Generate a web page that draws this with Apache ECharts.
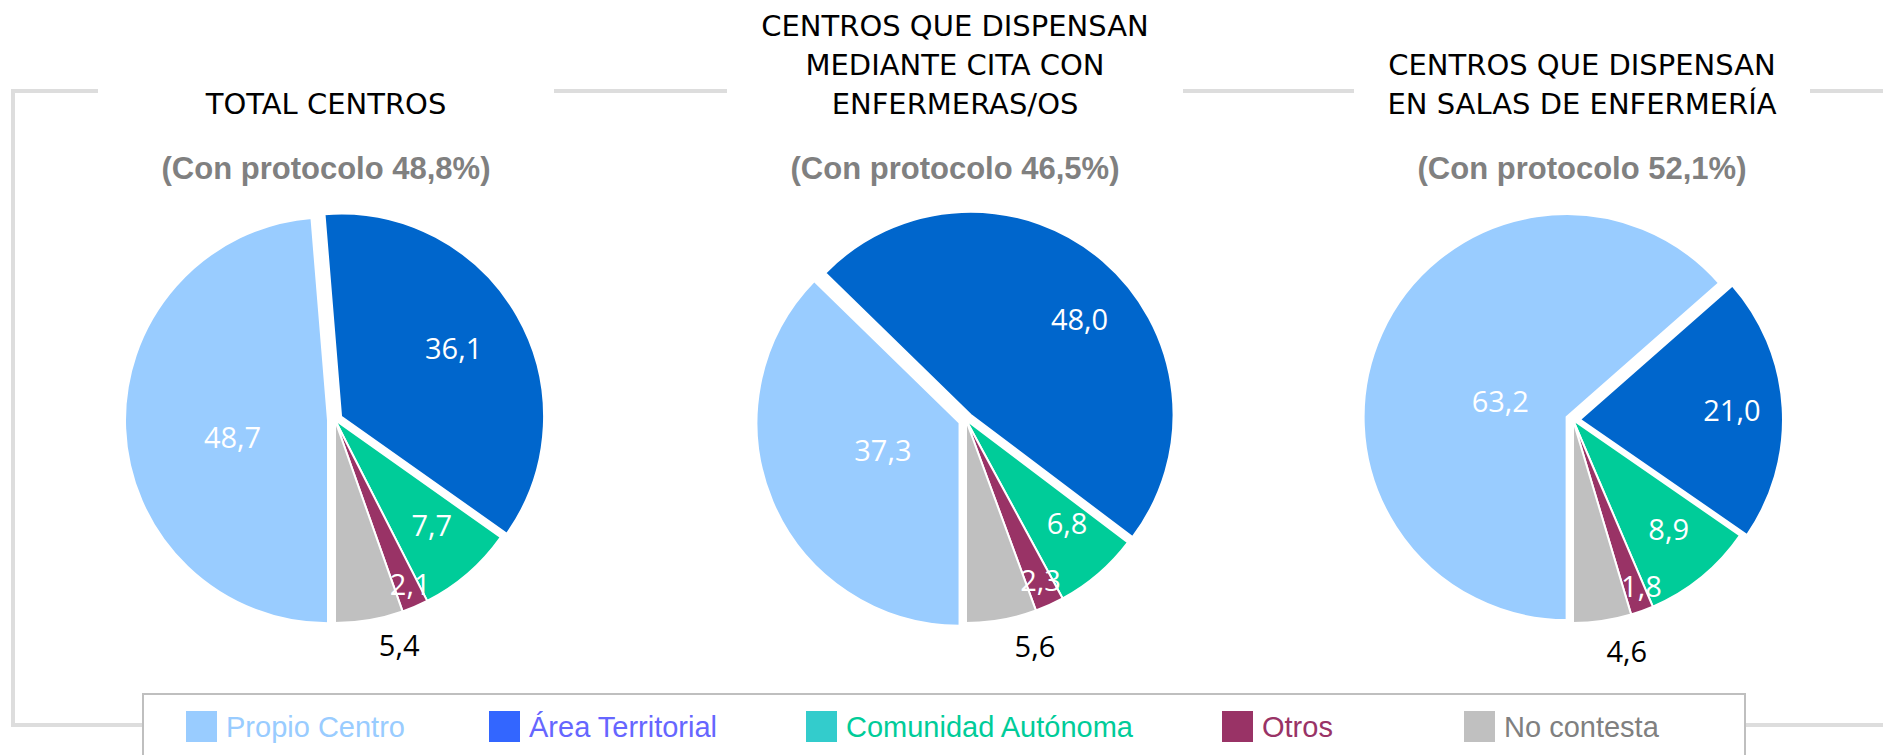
<!DOCTYPE html>
<html>
<head>
<meta charset="utf-8">
<title>Centros con protocolo</title>
<script src="https://cdn.jsdelivr.net/npm/echarts@6/dist/echarts.min.js"></script>
<style>
  html, body { margin: 0; padding: 0; background: #fff; }
  #chart { width: 1883px; height: 755px; }
</style>
</head>
<body>
<div id="chart"></div>
<script>
// datos (porcentajes)
const categories = ['Propio Centro', 'Área Territorial', 'Comunidad Autónoma', 'Otros', 'No contesta'];
const totalCentros = [48.7, 36.1, 7.7, 2.1, 5.4];
const citaEnfermeras = [37.3, 48.0, 6.8, 2.3, 5.6];
const salasEnfermeria = [63.2, 21.0, 8.9, 1.8, 4.6];
const pieTitles = [
  'TOTAL CENTROS',
  'CENTROS QUE DISPENSAN\nMEDIANTE CITA CON\nENFERMERAS/OS',
  'CENTROS QUE DISPENSAN\nEN SALAS DE ENFERMERÍA',
];
const conProtocolo = ['48,8', '46,5', '52,1'];

// estilo y maquetación
const sliceColors = ['#99CCFF', '#0066CC', '#00CC99', '#993366', '#C0C0C0'];
const legendIconColors = ['#99CCFF', '#3366FF', '#33CCCC', '#993366', '#C0C0C0'];
const legendTextColors = ['#99CCFF', '#6666FF', '#00CC99', '#993366', '#808080'];
const legendLeft = [186, 489, 806, 1222, 1464];
const pieCenters = [[335, 420], [966, 420], [1573, 420]];
const pieRadius = 203;
const titleX = [326, 955, 1582];
// colocación de etiquetas ("mejor ajuste" del original):
// [fracción del radio, desvío en grados respecto al ángulo medio del sector]
const labelPlacement = [
  [[0.477, -7.4], [0.651, -1.9], [0.703, -1.8], [0.885, -1.5], [1.152, -6.2]],
  [[0.40, 3.7], [0.715, 8.0], [0.709, -3.9], [0.866, -0.8], [1.163, -6.9]],
  [[0.337, -10.2], [0.75, -0.45], [0.712, -2.2], [0.884, -2.5], [1.167, -4.8]],
];

const seriesValues = [totalCentros, citaEnfermeras, salasEnfermeria];

// ángulo medio de cada sector, en grados desde las 12 en sentido horario
// (el primer sector empieza a las 6 en punto)
function midAngles(vals) {
  const sum = vals.reduce((a, b) => a + b, 0);
  let acc = 180;
  return vals.map((v) => {
    const a = (v / sum) * 360;
    const m = acc + a / 2;
    acc += a;
    return m;
  });
}

function placeLabel(si) {
  const mids = midAngles(seriesValues[si]);
  return function (p) {
    const pl = labelPlacement[si][p.dataIndex];
    const th = ((mids[p.dataIndex] + pl[1]) * Math.PI) / 180;
    const c = pieCenters[si];
    const tx = c[0] + pl[0] * pieRadius * Math.sin(th);
    const ty = c[1] - pl[0] * pieRadius * Math.cos(th);
    const r = p.labelRect;
    return { dx: tx - (r.x + r.width / 2), dy: ty - (r.y + r.height / 2) };
  };
}

const series = seriesValues.map((vals, si) => ({
  type: 'pie',
  center: pieCenters[si],
  radius: pieRadius,
  startAngle: 270,
  clockwise: true,
  selectedMode: 'multiple',
  selectedOffset: 7,
  animation: false,
  emphasis: { disabled: true },
  itemStyle: { borderColor: '#fff', borderWidth: 2 },
  label: {
    show: true,
    position: 'inside',
    fontFamily: 'Open Sans',
    fontSize: 29,
    formatter: (p) => p.value.toFixed(1).replace('.', ','),
  },
  labelLine: { show: false },
  labelLayout: placeLabel(si),
  data: categories.map((name, j) => ({
    name: name,
    value: vals[j],
    selected: j < 2,
    itemStyle: { color: sliceColors[j] },
    label: { color: j === 4 ? '#000' : '#fff' },
  })),
}));

const legends = categories.map((name, j) => ({
  left: legendLeft[j],
  top: 711,
  padding: 0,
  itemWidth: 31,
  itemHeight: 31,
  selectedMode: false,
  textStyle: { fontFamily: 'Liberation Sans', fontSize: 29, padding: [0, 0, 0, 4] },
  data: [{
    name: name,
    icon: 'rect',
    itemStyle: { color: legendIconColors[j], borderWidth: 0 },
    textStyle: { color: legendTextColors[j] },
  }],
}));

const graphics = [
  // marco gris
  {
    type: 'rect', z: 0, silent: true,
    shape: { x: 13, y: 91, width: 1900, height: 634 },
    style: { fill: null, stroke: '#DDDDDD', lineWidth: 4 },
  },
  // caja de la leyenda
  {
    type: 'rect', z: 1, silent: true,
    shape: { x: 143, y: 694, width: 1602, height: 80 },
    style: { fill: '#fff', stroke: '#BFBFBF', lineWidth: 2 },
  },
];
pieTitles.forEach((t, i) => {
  const lines = t.split('\n').length;
  graphics.push({
    type: 'rect', z: 1, silent: true,
    shape: { x: titleX[i] - 228, y: 84, width: 456, height: 14 },
    style: { fill: '#fff' },
  });
  graphics.push({
    type: 'text', z: 5, silent: true,
    x: titleX[i], y: 104 + 19.5 - lines * 39,
    style: {
      text: t, fill: '#000', align: 'center', verticalAlign: 'top',
      font: '29px "DejaVu Sans"', lineHeight: 39,
    },
  });
  graphics.push({
    type: 'text', z: 5, silent: true,
    x: titleX[i], y: 168,
    style: {
      text: '(Con protocolo ' + conProtocolo[i] + '%)', fill: '#808080',
      align: 'center', verticalAlign: 'middle',
      font: 'bold 31px "Liberation Sans"',
    },
  });
});

const chart = echarts.init(document.getElementById('chart'), null, { renderer: 'svg' });
chart.setOption({
  backgroundColor: '#fff',
  animation: false,
  legend: legends,
  graphic: graphics,
  series: series,
});
window.addEventListener('resize', () => chart.resize());
</script>
</body>
</html>
